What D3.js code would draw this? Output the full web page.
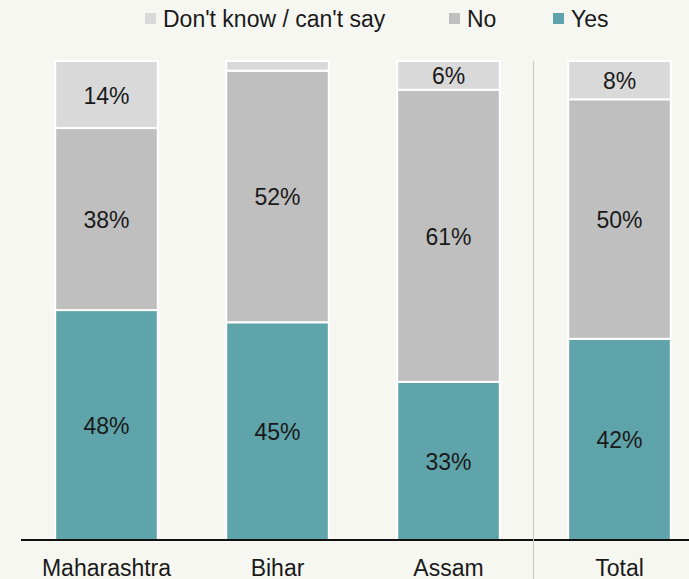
<!DOCTYPE html>
<html>
<head>
<meta charset="utf-8">
<script src="https://cdn.jsdelivr.net/npm/d3@7"></script>
<style>
  html, body { margin: 0; padding: 0; background: #f7f7f2; }
  svg { display: block; font-family: "Liberation Sans", Arial, sans-serif; }
</style>
</head>
<body>
<svg id="chart" width="689" height="579"></svg>
<script>
const regions = ['Maharashtra', 'Bihar', 'Assam', 'Total'];
const yesVals = [48, 45, 33, 42];
const noVals = [38, 52, 61, 50];
const dkVals = [14, 2, 6, 8];
const dkLabels = ['14%', '', '6%', '8%'];

const seriesKeys = ['yes', 'no', 'dk'];
const seriesNames = { dk: "Don't know / can't say", no: 'No', yes: 'Yes' };
const colors = { yes: '#5fa4aa', no: '#bfbfbf', dk: '#d9d9d9' };

const width = 689, height = 579;
const baseY = 540, topY = 61;

const rows = regions.map((r, i) => ({ region: r, yes: yesVals[i], no: noVals[i], dk: dkVals[i], dkLabel: dkLabels[i] }));

const stack = d3.stack().keys(seriesKeys).offset(d3.stackOffsetExpand);
const layers = stack(rows);

const x = d3.scaleBand().domain(regions).range([21, 705]).paddingInner(0.4).paddingOuter(0.2);
const y = d3.scaleLinear().domain([0, 1]).range([baseY, topY]);

const svg = d3.select('#chart');

const g = svg.selectAll('.layer')
    .data(layers)
    .enter()
    .append('g')
    .attr('class', 'layer')
    .attr('fill', d => colors[d.key]);

g.selectAll('rect')
    .data(d => d.map(p => Object.assign(p, { key: d.key })))
    .enter()
    .append('rect')
    .attr('x', d => x(d.data.region))
    .attr('width', x.bandwidth())
    .attr('y', d => y(d[1]))
    .attr('height', d => y(d[0]) - y(d[1]))
    .attr('stroke', '#ffffff')
    .attr('stroke-width', 2);

// segment labels
g.selectAll('text')
    .data(d => d)
    .enter()
    .append('text')
    .attr('x', d => x(d.data.region) + x.bandwidth() / 2)
    .attr('y', d => (y(d[0]) + y(d[1])) / 2 + 9)
    .attr('text-anchor', 'middle')
    .attr('font-size', 23)
    .attr('fill', '#1a1a1a')
    .text(d => d.key === 'dk' ? d.data.dkLabel : d.data[d.key] + '%');

// baseline
svg.append('line')
    .attr('x1', 21).attr('x2', width)
    .attr('y1', baseY).attr('y2', baseY)
    .attr('stroke', '#111').attr('stroke-width', 2);

// separator before Total
const sepX = (x('Assam') + x.bandwidth() + x('Total')) / 2;
svg.append('line')
    .attr('x1', Math.round(sepX) - 0.5).attr('x2', Math.round(sepX) - 0.5)
    .attr('y1', topY).attr('y2', height)
    .attr('stroke', '#c9c9c9').attr('stroke-width', 1);

// category labels
svg.append('g')
    .selectAll('text')
    .data(regions)
    .enter()
    .append('text')
    .attr('x', d => x(d) + x.bandwidth() / 2)
    .attr('y', 576)
    .attr('text-anchor', 'middle')
    .attr('font-size', 23)
    .attr('fill', '#1a1a1a')
    .text(d => d);

// legend
const legendItems = [
    { key: 'dk', x: 145 },
    { key: 'no', x: 449 },
    { key: 'yes', x: 553 }
];
const legend = svg.append('g');
legend.selectAll('rect')
    .data(legendItems)
    .enter()
    .append('rect')
    .attr('x', d => d.x).attr('y', 13)
    .attr('width', 11).attr('height', 11)
    .attr('fill', d => colors[d.key]);
legend.selectAll('text')
    .data(legendItems)
    .enter()
    .append('text')
    .attr('x', d => d.x + 18).attr('y', 27)
    .attr('font-size', 23)
    .attr('fill', '#1a1a1a')
    .text(d => seriesNames[d.key]);
</script>
</body>
</html>
